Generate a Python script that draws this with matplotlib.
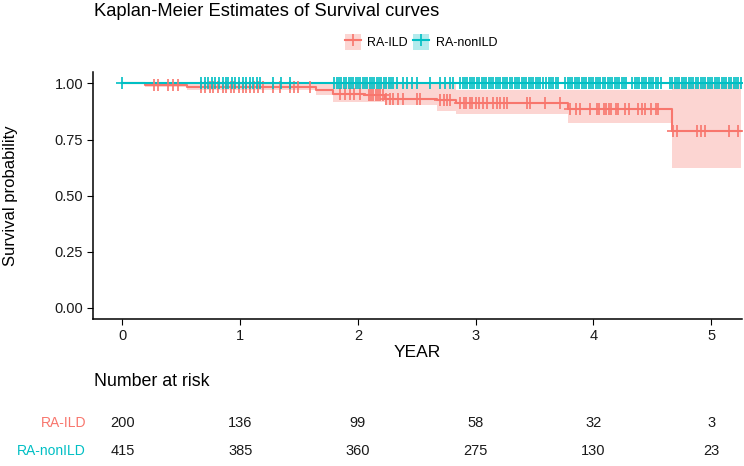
import matplotlib
matplotlib.use("Agg")
import matplotlib.pyplot as plt
from matplotlib.patches import Patch
from matplotlib.lines import Line2D
from matplotlib.legend_handler import HandlerTuple
import numpy as np

plt.rcParams['font.family'] = ['Liberation Sans', 'DejaVu Sans']

RED = "#F8766D"
TEAL = "#00BFC4"

groups = ["RA-ILD", "RA-nonILD"]

# Kaplan-Meier step values (YEAR, survival)
ild_time = [0.0, 0.19, 0.55, 1.64, 1.79, 2.05, 2.23, 2.67, 2.83, 3.78, 4.67]
ild_surv = [1.0, 0.995, 0.982, 0.969, 0.955, 0.947, 0.932, 0.925, 0.913, 0.885, 0.788]
ild_lower = [1.0, 0.985, 0.969, 0.950, 0.917, 0.917, 0.903, 0.875, 0.866, 0.822, 0.624]
ild_upper = [1.0, 1.0, 1.0, 1.0, 1.0, 1.0, 1.0, 1.0, 0.970, 0.970, 1.0]
ild_end = 5.25

non_time = [0.0]
non_surv = [1.0]
non_end = 5.26

# censoring times
ild_cens = [0.27, 0.30, 0.39, 0.43, 0.47,
            0.67, 0.70, 0.74, 0.77, 0.81, 0.85, 0.88, 0.92, 0.95, 0.99, 1.02, 1.05, 1.08, 1.12, 1.15, 1.19,
            1.28, 1.34, 1.42, 1.46, 1.49, 1.59,
            1.85, 1.89, 1.93, 1.97, 2.02,
            2.09, 2.11, 2.13, 2.15, 2.17, 2.19, 2.21,
            2.24, 2.27, 2.30, 2.34, 2.38, 2.50, 2.53,
            2.70, 2.73, 2.76, 2.78,
            2.87, 2.90, 2.92, 2.95, 2.97, 3.00, 3.03, 3.06, 3.10, 3.15, 3.18, 3.21, 3.24, 3.27, 3.44, 3.46,
            3.59, 3.72,
            3.80, 3.85, 3.89, 3.97, 4.03, 4.05, 4.09, 4.11, 4.13, 4.15, 4.19, 4.21, 4.27, 4.30,
            4.38, 4.41, 4.44, 4.49, 4.53, 4.55,
            4.68, 4.71, 4.88, 4.91, 4.95, 5.15, 5.23]

non_cens = [0.0,
            0.67, 0.70, 0.73, 0.76, 0.79, 0.82, 0.85, 0.88, 0.90, 0.93, 0.96, 0.99, 1.02, 1.05, 1.08, 1.11, 1.14, 1.17,
            1.28, 1.35, 1.42,
            1.80, 1.82, 1.84, 1.86, 1.88, 1.90, 1.92, 1.94, 1.96, 1.98, 2.00, 2.02, 2.04, 2.06, 2.08,
            2.10, 2.12, 2.14, 2.16, 2.18, 2.20, 2.22, 2.24, 2.26, 2.28, 2.30, 2.33,
            2.38, 2.42, 2.46, 2.50, 2.61, 2.70, 2.74, 2.78, 2.81,
            2.87, 2.89, 2.91, 2.93, 2.95, 2.97, 2.99, 3.01, 3.03, 3.05, 3.07, 3.09, 3.11, 3.13, 3.15,
            3.17, 3.19, 3.21, 3.23, 3.25, 3.27, 3.29, 3.31, 3.33, 3.35, 3.37, 3.39, 3.41, 3.43, 3.45,
            3.47, 3.49, 3.51, 3.53, 3.55,
            3.57, 3.60, 3.62, 3.64, 3.66, 3.68, 3.70, 3.76, 3.78, 3.80, 3.82, 3.84, 3.86, 3.88, 3.90,
            3.92, 3.94, 3.96, 3.98, 4.00, 4.02, 4.04, 4.06, 4.08, 4.10, 4.12, 4.14, 4.16, 4.18, 4.20,
            4.22, 4.24, 4.26, 4.28, 4.33, 4.35, 4.37, 4.39, 4.41, 4.43, 4.45, 4.47, 4.49, 4.51, 4.53,
            4.55, 4.57, 4.65, 4.67, 4.69, 4.71, 4.73, 4.75, 4.77, 4.79, 4.81, 4.83, 4.85, 4.87, 4.89,
            4.91, 4.93, 4.95, 4.97, 4.99, 5.01, 5.03, 5.05, 5.07, 5.09, 5.11, 5.13, 5.15, 5.17, 5.19,
            5.21, 5.23, 5.25]

risk_times = [0, 1, 2, 3, 4, 5]
ild_risk = [200, 136, 99, 58, 32, 3]
non_risk = [415, 385, 360, 275, 130, 23]


def step_at(times, values, t):
    idx = np.searchsorted(times, t, side="right") - 1
    return np.asarray(values)[idx]


fig = plt.figure(figsize=(7.44, 4.66), dpi=100)
ax = fig.add_axes([0.125, 0.3155, 0.872, 0.5295])

# confidence band for RA-ILD
bx = ild_time + [ild_end]
ax.fill_between(bx, ild_lower + [ild_lower[-1]], ild_upper + [ild_upper[-1]],
                step="post", color=RED, alpha=0.3, linewidth=0)

ax.step(ild_time + [ild_end], ild_surv + [ild_surv[-1]], where="post", color=RED, lw=1.5)
ax.step(non_time + [non_end], non_surv + [non_surv[-1]], where="post", color=TEAL, lw=1.5)

ax.plot(ild_cens, step_at(ild_time, ild_surv, ild_cens), ls="none", marker="+",
        ms=8, mew=1.2, color=RED)
ax.plot(non_cens, step_at(non_time, non_surv, non_cens), ls="none", marker="+",
        ms=8, mew=1.2, color=TEAL)

ax.set_xlim(-0.25, 5.26)
ax.set_ylim(-0.05, 1.05)
ax.set_xticks(risk_times)
ax.set_yticks([0, 0.25, 0.5, 0.75, 1.0])
ax.set_yticklabels(["0.00", "0.25", "0.50", "0.75", "1.00"])
ax.tick_params(labelsize=10.5, length=4, color="black", labelcolor="#1a1a1a", pad=3)
for s in ["top", "right"]:
    ax.spines[s].set_visible(False)
for s in ["left", "bottom"]:
    ax.spines[s].set_linewidth(1.1)
ax.set_xlabel("YEAR", fontsize=12.5, labelpad=2)
ax.set_ylabel("Survival probability", fontsize=12, labelpad=26)

fig.text(94 / 744, 1 - 12 / 466, "Kaplan-Meier Estimates of Survival curves",
         fontsize=13.2, ha="left", va="center")

handles = []
for c in [RED, TEAL]:
    handles.append((Patch(facecolor=c, alpha=0.3, edgecolor="none"),
                    Line2D([], [], color=c, lw=1.5, marker="+", ms=8, mew=1.2)))
fig.legend(handles, groups, handler_map={tuple: HandlerTuple(ndivide=1, pad=0)},
           loc="center", bbox_to_anchor=(421 / 744, 1 - 42 / 466), ncol=2, frameon=False,
           fontsize=9, handlelength=1.3, handleheight=1.6, handletextpad=0.5,
           columnspacing=0.4, borderaxespad=0)

# number at risk table
fig.text(94 / 744, 1 - 382 / 466, "Number at risk", fontsize=12.8, ha="left", va="center")
row_y = [1 - 423 / 466, 1 - 451 / 466]
row_vals = [ild_risk, non_risk]
row_cols = [RED, TEAL]
for y, vals, col, name in zip(row_y, row_vals, row_cols, groups):
    fig.text(86 / 744, y, name, color=col, fontsize=10, ha="right", va="center")
    for t, v in zip(risk_times, vals):
        xf = ax.transData.transform((t, 0))[0] / fig.bbox.width
        fig.text(xf, y, str(v), fontsize=10.5, ha="center", va="center", color="#1a1a1a")

fig.savefig("out.png", dpi=100)
